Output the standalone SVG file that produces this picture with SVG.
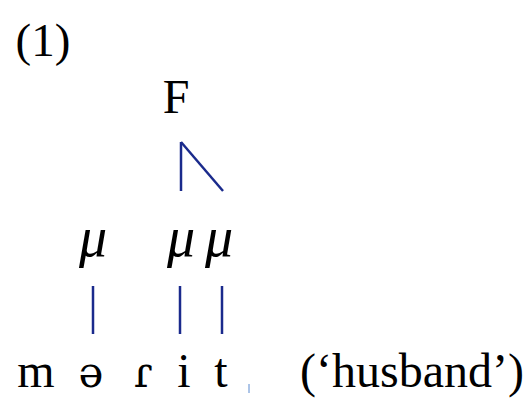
<svg xmlns="http://www.w3.org/2000/svg" width="532" height="400" viewBox="0 0 532 400">
<style>
.t{font-family:"Liberation Serif","Times New Roman",serif;font-size:48px;fill:#000;text-anchor:middle}
.ipa{font-family:"DejaVu Serif","Liberation Serif",serif;font-size:42px}
.mu{font-style:italic;font-size:56px}
.l{stroke:#1a2a8c;stroke-width:2.5;fill:none}
</style>
<rect width="532" height="400" fill="#fff"/>
<g id="label"><text class="t" x="43" y="56" style="font-size:47px">(1)</text></g>
<g id="F"><text class="t" x="176" y="113">F</text></g>
<g id="mu1"><text class="t mu" x="93" y="256">μ</text></g>
<g id="mu2"><text class="t mu" x="181" y="256">μ</text></g>
<g id="mu3"><text class="t mu" x="219" y="256">μ</text></g>
<g id="seg-m"><text class="t" x="36" y="387">m</text></g>
<g id="seg-schwa"><text class="t ipa" x="91" y="387">ə</text></g>
<g id="seg-flap"><text class="t ipa" x="143" y="387">ɾ</text></g>
<g id="seg-i"><text class="t" x="184" y="387">i</text></g>
<g id="seg-t"><text class="t" x="221" y="387">t</text></g>
<g id="gloss"><text class="t" x="412" y="387">(‘husband’)</text></g>
<g id="connectors">
<line class="l" x1="181" y1="142" x2="181" y2="191"/>
<line class="l" x1="181" y1="142" x2="223" y2="191"/>
<line class="l" x1="93" y1="286" x2="93" y2="334"/>
<line class="l" x1="180" y1="286" x2="180" y2="334"/>
<line class="l" x1="222" y1="286" x2="222" y2="334"/>
<line x1="249" y1="384" x2="249" y2="393" stroke="#5a8ad0" stroke-width="1"/>
</g>
</svg>
